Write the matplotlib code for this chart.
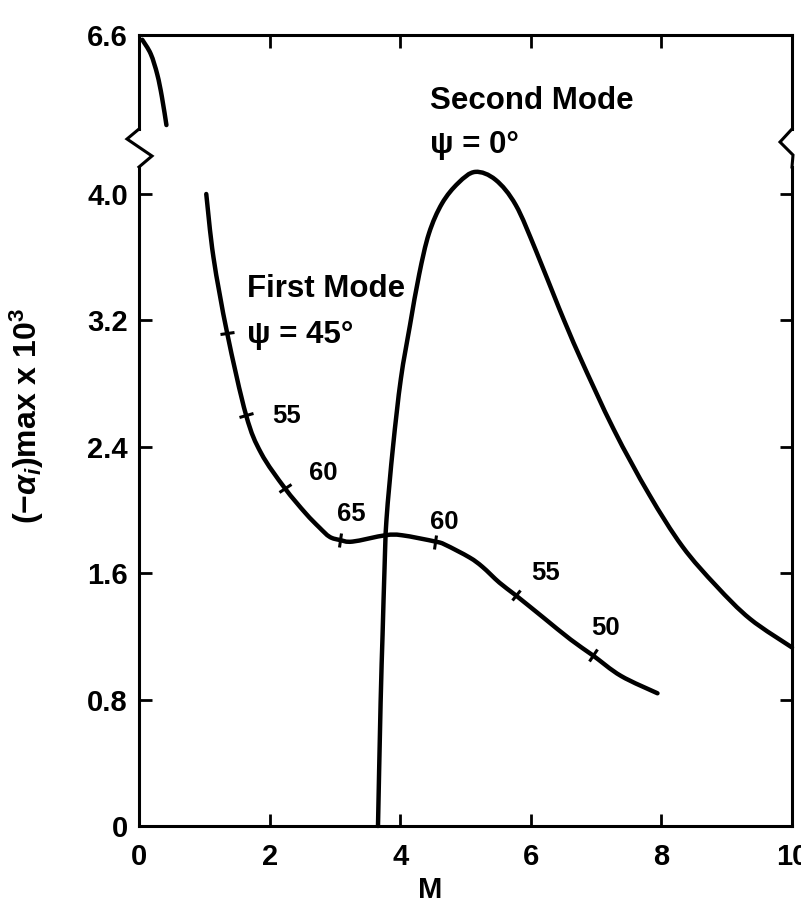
import numpy as np
import matplotlib
matplotlib.use('Agg')
import matplotlib.pyplot as plt
from matplotlib.lines import Line2D
from matplotlib.markers import MarkerStyle
from matplotlib.transforms import Affine2D
from matplotlib.path import Path
from matplotlib.patches import PathPatch

plt.rcParams['font.family'] = ['Liberation Sans', 'DejaVu Sans']
plt.rcParams['font.weight'] = 'bold'
plt.rcParams['mathtext.fontset'] = 'custom'
plt.rcParams['mathtext.rm'] = 'Liberation Sans:bold'
plt.rcParams['mathtext.it'] = 'Liberation Sans:italic'
plt.rcParams['mathtext.bf'] = 'Liberation Sans:bold'

# ---------------- data ----------------
# First mode (psi = 45 deg ... 65 ... 50)
first_x = [1.03, 1.14, 1.35, 1.64, 1.87, 2.23, 2.55, 2.76, 2.92, 3.08, 3.27, 3.77, 4.03,
           4.54, 4.69, 5.06, 5.26, 5.52, 5.77, 6.19, 6.61, 6.95, 7.38, 7.94]
first_y = [4.00, 3.60, 3.12, 2.60, 2.36, 2.14, 1.98, 1.89, 1.83, 1.81, 1.80, 1.84, 1.84,
           1.80, 1.78, 1.70, 1.64, 1.54, 1.46, 1.32, 1.18, 1.08, 0.95, 0.84]
# indices of first-mode points carrying a psi tick mark, and their labels
first_tick_idx = [2, 3, 5, 9, 13, 18, 21]
first_tick_lbl = ['45', '55', '60', '65', '60', '55', '50']

# Second mode (psi = 0 deg)
second_x = [3.66, 3.70, 3.73, 3.76, 3.79, 3.89, 4.01, 4.15, 4.29, 4.44, 4.64, 4.89, 5.15,
            5.46, 5.77, 6.08, 6.43, 6.75, 7.27, 7.81, 8.32, 8.84, 9.36, 10.0]
second_y = [0.00, 0.78, 1.21, 1.63, 1.94, 2.40, 2.83, 3.17, 3.49, 3.75, 3.94, 4.07, 4.14,
            4.09, 3.93, 3.64, 3.28, 2.97, 2.51, 2.10, 1.77, 1.52, 1.31, 1.13]

# Segment above the axis break (near M = 0)
top_x = [0.05, 0.18, 0.28, 0.35, 0.42]
top_y = [6.57, 6.48, 6.35, 6.21, 6.03]

x_ticks = [0, 2, 4, 6, 8, 10]
y_ticks = [0, 0.8, 1.6, 2.4, 3.2, 4.0]
y_ticks_top = [6.6]

# ---------------- layout ----------------
W, H = 801, 910
fig = plt.figure(figsize=(W / 100, H / 100), dpi=100)
fig.patch.set_facecolor('white')

L, R = 139, 792
low_top, low_bot = 167, 826
up_top, up_bot = 35, 129
ppu = 158.0  # pixels per y unit

ax = fig.add_axes([L / W, 1 - low_bot / H, (R - L) / W, (low_bot - low_top) / H])
axu = fig.add_axes([L / W, 1 - up_bot / H, (R - L) / W, (up_bot - up_top) / H])

ax.set_xlim(0, 10)
ax.set_ylim(0, (low_bot - low_top) / ppu)
axu.set_xlim(0, 10)
axu.set_ylim(6.6 - (up_bot - up_top) / ppu, 6.6)

spw = 2.2
for a in (ax, axu):
    for s in a.spines.values():
        s.set_linewidth(spw)
        s.set_color('black')
    a.set_facecolor('none')
ax.spines['top'].set_visible(False)
axu.spines['bottom'].set_visible(False)

tick_fs = 21
ax.set_xticks(x_ticks)
ax.set_xticklabels([str(v) for v in x_ticks])
ax.set_yticks(y_ticks)
ax.set_yticklabels(['0' if v == 0 else f'{v:.1f}' for v in y_ticks])
ax.tick_params(axis='both', direction='in', length=9, width=2, labelsize=tick_fs)
ax.tick_params(axis='x', pad=12, top=False)
ax.tick_params(axis='y', pad=8, right=True)

axu.set_xticks(x_ticks)
axu.tick_params(axis='x', direction='in', length=9, width=2, top=True, bottom=False,
                labelbottom=False, labeltop=False)
axu.set_yticks(y_ticks_top)
axu.set_yticklabels([f'{v:.1f}' for v in y_ticks_top])
axu.tick_params(axis='y', direction='in', length=0, pad=8, labelsize=tick_fs)


# ---------------- curves (smooth Bezier through the read points) ----------------
def smooth_path(xs, ys, a):
    # work in display space so the curve shape is not distorted by axis scaling
    P = a.transData.transform(np.column_stack([xs, ys]))
    n = len(P)
    verts = [P[0]]
    codes = [Path.MOVETO]
    for i in range(n - 1):
        p0 = P[i - 1] if i > 0 else P[i]
        p1, p2 = P[i], P[i + 1]
        p3 = P[i + 2] if i + 2 < n else P[i + 1]
        c1 = p1 + (p2 - p0) / 6.0
        c2 = p2 - (p3 - p1) / 6.0
        verts += [c1, c2, p2]
        codes += [Path.CURVE4] * 3
    verts = a.transData.inverted().transform(np.array(verts))
    return Path(verts, codes)


lw = 3.2
fig.canvas.draw()
for a, xs, ys in ((ax, first_x, first_y), (ax, second_x, second_y), (axu, top_x, top_y)):
    patch = PathPatch(smooth_path(xs, ys, a), facecolor='none', edgecolor='black',
                      lw=lw, capstyle='round', joinstyle='round', transform=a.transData,
                      clip_on=False)
    a.add_patch(patch)

# psi tick marks perpendicular to the first-mode curve
pts = ax.transData.transform(np.column_stack([first_x, first_y]))
for i in first_tick_idx:
    d = pts[i + 1] - pts[i - 1]
    ang = np.degrees(np.arctan2(d[1], d[0]))
    m = MarkerStyle('|', transform=Affine2D().rotate_deg(ang))
    ax.plot([first_x[i]], [first_y[i]], marker=m, markersize=10, mew=2.2,
            color='black', linestyle='none')

# ---------------- annotations ----------------
lab_fs = 18.5
txt_fs = 22.5
# psi labels next to the tick marks (first one is part of "psi = 45°")
num_pos = [(2.04, 2.55), (2.60, 2.19), (3.03, 1.93), (4.46, 1.88), (6.00, 1.56), (6.92, 1.21)]
for (px, py), s in zip(num_pos, first_tick_lbl[1:]):
    ax.text(px, py, s, fontsize=lab_fs, fontweight='bold', ha='left', va='baseline')

ax.text(1.66, 3.35, 'First Mode', fontsize=txt_fs, fontweight='bold', ha='left', va='baseline')
ax.text(1.65, 3.06, '\u03c8 = ' + first_tick_lbl[0] + '\u00b0', fontsize=txt_fs,
        fontweight='bold', ha='left', va='baseline')
ax.text(4.46, 4.54, 'Second Mode', fontsize=txt_fs, fontweight='bold', ha='left', va='baseline')
ax.text(4.46, 4.26, '\u03c8 = 0\u00b0', fontsize=txt_fs, fontweight='bold', ha='left', va='baseline')

# axis labels
fig.text(430 / W, 1 - 890 / H, 'M', fontsize=21, fontweight='bold', ha='center', va='center')
fig.text(27 / W, 1 - 416 / H, r'$(-\alpha_i)$max x 10$^3$', fontsize=23, fontweight='bold',
         rotation=90, ha='center', va='center')


# ---------------- axis break zigzags ----------------
def zig(points):
    xs = [p[0] / W for p in points]
    ys = [1 - p[1] / H for p in points]
    fig.add_artist(Line2D(xs, ys, transform=fig.transFigure, color='black', lw=spw,
                          solid_joinstyle='miter'))


zig([(L, up_bot), (L - 12, 139), (L + 13, 156), (L, low_top)])
zig([(R, up_bot), (R - 12, 142), (R + 1, 155), (R, low_top)])

fig.savefig('out.png', dpi=100, facecolor='white')
